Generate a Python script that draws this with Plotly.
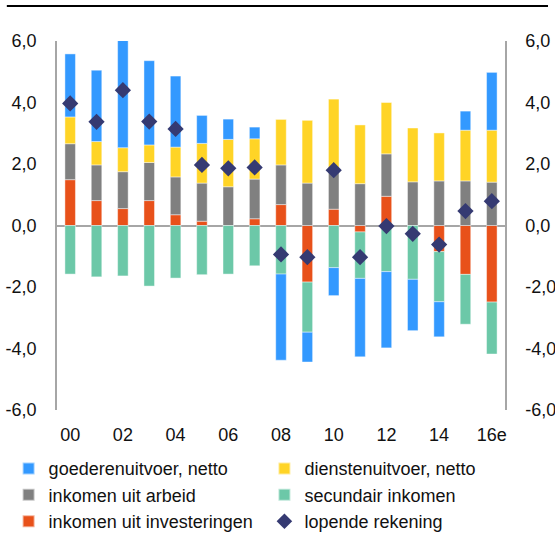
import plotly.graph_objects as go

# ---- data (percent of GDP) ----
years = ["00", "01", "02", "03", "04", "05", "06", "07", "08", "09",
         "10", "11", "12", "13", "14", "15", "16e"]
x_tick_vals = ["00", "02", "04", "06", "08", "10", "12", "14", "16e"]

goods = [2.05, 2.32, 3.50, 2.74, 2.31, 0.91, 0.66, 0.38, -2.80, -0.97,
         -0.91, -2.55, -2.48, -1.67, -1.14, 0.62, 1.88]
services = [0.87, 0.76, 0.78, 0.57, 0.97, 1.29, 1.54, 1.31, 1.48, 2.04,
            2.25, 1.91, 1.67, 1.75, 1.56, 1.65, 1.69]
labour = [1.17, 1.16, 1.20, 1.24, 1.23, 1.24, 1.26, 1.29, 1.29, 1.38,
          1.33, 1.36, 1.38, 1.42, 1.45, 1.45, 1.41]
secondary = [-1.58, -1.67, -1.64, -1.97, -1.71, -1.60, -1.58, -1.31, -1.58, -1.63,
             -1.37, -1.51, -1.50, -1.75, -1.63, -1.62, -1.69]
investment = [1.49, 0.81, 0.55, 0.81, 0.35, 0.14, 0.00, 0.22, 0.68, -1.84,
              0.53, -0.21, 0.95, 0.00, -0.85, -1.59, -2.49]
current_account = [3.97, 3.37, 4.40, 3.38, 3.14, 1.97, 1.86, 1.89, -0.94, -1.03,
                   1.80, -1.03, -0.02, -0.27, -0.62, 0.47, 0.79]

y_tick_vals = [-6, -4, -2, 0, 2, 4, 6]
y_tick_text = ["-6,0", "-4,0", "-2,0", "0,0", "2,0", "4,0", "6,0"]

names = {
    "goods": "goederenuitvoer, netto",
    "services": "dienstenuitvoer, netto",
    "labour": "inkomen uit arbeid",
    "secondary": "secundair inkomen",
    "investment": "inkomen uit investeringen",
    "current": "lopende rekening",
}

C_BLUE = "#3399ff"
C_YELLOW = "#ffd426"
C_GRAY = "#808080"
C_GREEN = "#6cc8a8"
C_ORANGE = "#e8511a"
C_NAVY = "#353a72"

FONT = "Liberation Sans, Arial, sans-serif"
FS = 18
edge = dict(width=0.8, color="rgba(255,255,255,0.55)")

fig = go.Figure()

def bar(vals, name, color, legend, rank):
    fig.add_trace(go.Bar(
        x=years, y=vals, name=name, marker=dict(color=color, line=edge),
        width=0.4, legend=legend, legendrank=rank,
    ))

# trace order determines stacking (positive and negative separately)
bar(investment, names["investment"], C_ORANGE, "legend", 3)
bar(labour, names["labour"], C_GRAY, "legend", 2)
bar(secondary, names["secondary"], C_GREEN, "legend2", 2)
bar(services, names["services"], C_YELLOW, "legend2", 1)
bar(goods, names["goods"], C_BLUE, "legend", 1)

fig.add_trace(go.Scatter(
    x=years, y=current_account, name=names["current"], mode="markers",
    marker=dict(symbol="diamond", size=12.5, color=C_NAVY),
    legend="legend2", legendrank=3,
))

# invisible trace to bring up the right-hand axis
fig.add_trace(go.Scatter(
    x=years, y=current_account, yaxis="y2", mode="markers",
    marker=dict(opacity=0), showlegend=False, hoverinfo="skip",
))

axis_col = "#a6a6a6"
yaxis_common = dict(
    range=[-6, 6], tickvals=y_tick_vals, ticktext=y_tick_text,
    showgrid=False, showline=True, linecolor=axis_col, linewidth=1.5,
    ticks="", ticklabelstandoff=15,
    tickfont=dict(family=FONT, size=FS, color="#111"),
)

legend_common = dict(
    xanchor="left", yanchor="top", orientation="v",
    font=dict(family=FONT, size=FS, color="#111"), tracegroupgap=0,
    bgcolor="rgba(0,0,0,0)", itemsizing="constant",
)

fig.update_layout(
    width=555, height=533, autosize=False,
    margin=dict(l=57, r=50, t=41, b=123, autoexpand=False),
    paper_bgcolor="white", plot_bgcolor="white",
    barmode="relative", bargap=0.6,
    font=dict(family=FONT, size=FS, color="#111"),
    xaxis=dict(
        type="category", range=[-0.5, 16.5],
        tickmode="array", tickvals=x_tick_vals, ticktext=x_tick_vals,
        showgrid=False, showline=False, ticks="", ticklabelstandoff=12,
        tickfont=dict(family=FONT, size=FS, color="#111"),
    ),
    yaxis=dict(**yaxis_common, zeroline=True, zerolinecolor=axis_col, zerolinewidth=1.5),
    yaxis2=dict(**yaxis_common, overlaying="y", side="right", zeroline=False),
    legend=dict(x=-0.108, y=-0.109, **legend_common),
    legend2=dict(x=0.463, y=-0.109, **legend_common),
    shapes=[dict(
        type="line", xref="paper", yref="paper",
        x0=-0.112, x1=1.096, y0=1.0949, y1=1.0949,
        line=dict(color="black", width=2),
    )],
    showlegend=True,
)

fig.write_html("out.html", config={"displayModeBar": False},
               post_script="document.body.style.margin='0px';")
